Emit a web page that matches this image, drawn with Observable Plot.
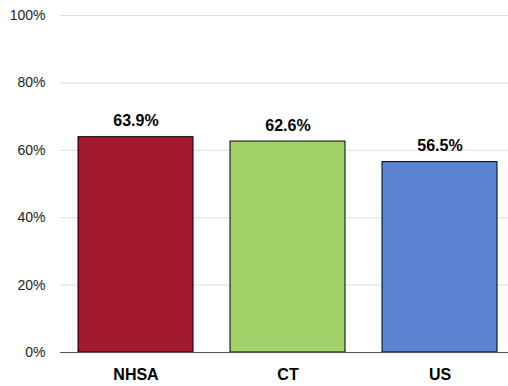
<!DOCTYPE html>
<html>
<head>
<meta charset="utf-8">
<script src="https://cdn.jsdelivr.net/npm/d3@7"></script>
<script src="https://cdn.jsdelivr.net/npm/@observablehq/plot@0.6"></script>
<style>
  html, body { margin: 0; padding: 0; background: #fff; }
  svg { display: block; }
</style>
</head>
<body>
<div id="chart"></div>
<script>
const categories = ["NHSA", "CT", "US"];
const values = [63.9, 62.6, 56.5];
const colors = ["#A31A2F", "#A2D36A", "#5A84D2"];
const yTicks = [0, 20, 40, 60, 80, 100];

const data = categories.map((c, i) => ({cat: c, value: values[i]}));
const font = "'Liberation Sans Narrow', 'Arial Narrow', 'Liberation Sans', Arial, sans-serif";

const chart = Plot.plot({
  width: 508,
  height: 386,
  marginTop: 15,
  marginBottom: 34,
  marginLeft: 60,
  marginRight: 0,
  style: {fontFamily: font, fontSize: "14px", color: "#000", background: "#fff"},
  x: {domain: categories, paddingInner: 0.243, paddingOuter: 0.072, insetLeft: 7, label: null},
  y: {domain: [0, 100], label: null},
  color: {domain: categories, range: colors},
  marks: [
    Plot.ruleY(yTicks.filter(d => d > 0), {stroke: "#dcdcdc", strokeWidth: 1}),
    Plot.barY(data, {x: "cat", y: "value", fill: "cat", stroke: "#000", strokeWidth: 1}),
    Plot.ruleY([0], {stroke: "#555", strokeWidth: 1}),
    Plot.axisY({ticks: yTicks, tickFormat: d => d + "%", tickSize: 0, tickPadding: 15, fontSize: 14, fill: "#222"}),
    Plot.axisX({tickSize: 0, tickPadding: 16, fontSize: 16, fontWeight: "bold", fill: "#000"}),
    Plot.text(data, {x: "cat", y: "value", text: d => d.value.toFixed(1) + "%", dy: -16, fontSize: 16, fontWeight: "bold", fill: "#000"})
  ]
});
document.getElementById("chart").appendChild(chart);
</script>
</body>
</html>
